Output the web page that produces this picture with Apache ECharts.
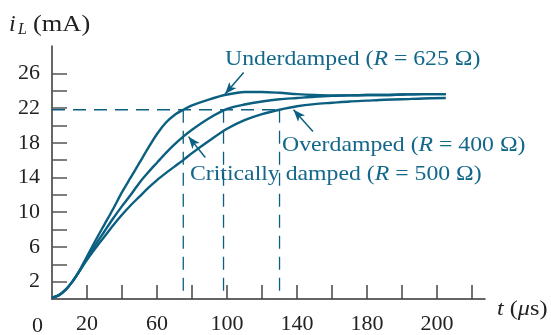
<!DOCTYPE html>
<html>
<head>
<meta charset="utf-8">
<script src="https://cdn.jsdelivr.net/npm/echarts@6/dist/echarts.min.js"></script>
<style>html,body{margin:0;padding:0;background:#fff;}#c{width:551px;height:335px;}</style>
</head>
<body>
<div id="c"></div>
<script>
// ---- data (t in microseconds, iL in mA) ----
const tValues = [0,4,8,12,15,20,25,30,35,40,45,50,55,60,65,70,75,80,90,100,110,120,130,140,150,160,170,180,190,200,212,225];
const underdamped = [0.15,0.45,1.1,2.1,3.0,4.9,6.8,8.6,10.4,12.3,14.0,15.7,17.4,19.0,20.3,21.2,21.8,22.3,23.0,23.55,23.85,23.85,23.75,23.6,23.5,23.45,23.45,23.5,23.5,23.55,23.6,23.6];
const criticallyDamped = [0.15,0.45,1.1,2.1,3.0,4.7,6.3,7.8,9.3,10.7,12.0,13.4,14.6,15.7,16.8,17.8,18.7,19.5,20.85,21.9,22.4,22.75,23.0,23.15,23.3,23.4,23.45,23.5,23.5,23.55,23.6,23.6];
const overdamped = [0.15,0.45,1.1,2.1,3.0,4.5,5.9,7.2,8.5,9.7,10.8,11.8,12.8,13.7,14.5,15.25,16.0,16.8,18.25,19.6,20.6,21.3,21.8,22.2,22.45,22.6,22.75,22.85,22.95,23.0,23.1,23.15];
const refLevel = 21.8;
const crossTimes = [75, 98, 130];
const xTickValues = [20,40,60,80,100,120,140,160,180,200,220,240];
const xLabelValues = [20,60,100,140,180,220];
const xLabelTexts = ['20','60','100','140','180','200'];
const yTickValues = [2,4,6,8,10,12,14,16,18,20,22,24,26];
const yLabelValues = [2,6,10,14,18,22,26];
// arrows: [tail, head] in data coords
const arrowUnder = [[109.5, 26.1], [98.9, 23.6]];
const arrowOver = [[149.1, 19.3], [138.0, 21.8]];
const arrowCrit = [[87.6, 16.3], [78.0, 18.7]];

const teal = '#0b5f81';
const textTeal = '#13678a';
const font = '"Liberation Serif", "Times New Roman", serif';

function pairs(ys){ return tValues.map((t,i)=>[t, ys[i]]); }

function arrowMark(a){
  return {
    silent: true,
    symbol: ['none','arrow'],
    symbolSize: [7, 12],
    label: {show:false},
    lineStyle: {color: teal, width: 1.5, type: 'solid'},
    emphasis: {disabled: true},
    animation: false,
    data: [[{coord: a[0]}, {coord: a[1]}]]
  };
}

const dashStyle = {color: teal, width: 1.3, type: [13, 8]};
const dashSeries = [
  {type:'line', data:[[0, refLevel],[crossTimes[2], refLevel]], showSymbol:false, lineStyle: dashStyle, z:1, silent:true}
].concat(crossTimes.map(t => ({type:'line', data:[[t, refLevel],[t, 0]], showSymbol:false, lineStyle: dashStyle, z:1, silent:true})));

const curveStyle = {color: teal, width: 2.4};

function annot(text, x, y){
  return {type:'text', x: x, y: y, scaleX: 1.08, style:{text: text, fill: textTeal, font: '22px ' + font,
    align:'left', verticalAlign:'middle',
    rich:{i:{fontStyle:'italic', fontFamily: font, fontSize:22, fill: textTeal}}}};
}

const chart = echarts.init(document.getElementById('c'), null, {renderer:'canvas'});
chart.setOption({
  animation: false,
  backgroundColor: '#fff',
  grid: {left: 52, top: 46, right: 66, bottom: 29, containLabel: false},
  xAxis: {
    type: 'value', min: 0, max: 247.4, interval: 20,
    axisLine: {lineStyle: {color: '#333', width: 1.5}},
    axisTick: {inside: true, length: 14, customValues: xTickValues, lineStyle: {color: '#444', width: 1.5}},
    axisLabel: {customValues: xLabelValues, margin: 14, color: '#222', fontFamily: font, fontSize: 22,
      formatter: v => xLabelTexts[xLabelValues.indexOf(v)]},
    splitLine: {show: false}
  },
  yAxis: {
    type: 'value', min: 0, max: 29.14, interval: 2,
    axisLine: {show: true, lineStyle: {color: '#333', width: 1.5}},
    axisTick: {show: true, inside: true, length: 15, customValues: yTickValues, lineStyle: {color: '#555', width: 1.5}},
    axisLabel: {customValues: yLabelValues, margin: 12, color: '#222', fontFamily: font, fontSize: 22},
    splitLine: {show: false}
  },
  series: dashSeries.concat([
    {name:'Overdamped', type:'line', data: pairs(overdamped), showSymbol:false, smooth:0.3, lineStyle: curveStyle, z:3, markLine: arrowMark(arrowOver)},
    {name:'Critically damped', type:'line', data: pairs(criticallyDamped), showSymbol:false, smooth:0.3, lineStyle: curveStyle, z:3, markLine: arrowMark(arrowCrit)},
    {name:'Underdamped', type:'line', data: pairs(underdamped), showSymbol:false, smooth:0.3, lineStyle: curveStyle, z:3, markLine: arrowMark(arrowUnder)}
  ]),
  graphic: [
    annot('Underdamped ({i|R} = 625 Ω)', 225, 59),
    annot('Overdamped ({i|R} = 400 Ω)', 282, 145),
    annot('Critically damped ({i|R} = 500 Ω)', 190, 174),
    {type:'text', x: 9, y: 25, style:{text:'i', fill:'#222', font:'italic 24px ' + font, verticalAlign:'middle'}},
    {type:'text', x: 18, y: 30, style:{text:'L', fill:'#222', font:'italic 16px ' + font, verticalAlign:'middle'}},
    {type:'text', x: 33, y: 25, scaleX: 1.1, style:{text:'(mA)', fill:'#222', font:'24px ' + font, verticalAlign:'middle'}},
    {type:'text', x: 497, y: 309, scaleX: 1.1, style:{text:'{i|t} ({i|μ}s)', fill:'#222', font:'22px ' + font, verticalAlign:'middle',
      rich:{i:{fontStyle:'italic', fontFamily: font, fontSize:22, fill:'#222'}}}},
    {type:'text', x: 32, y: 326, style:{text:'0', fill:'#222', font:'22px ' + font, verticalAlign:'middle'}}
  ]
});
</script>
</body>
</html>
